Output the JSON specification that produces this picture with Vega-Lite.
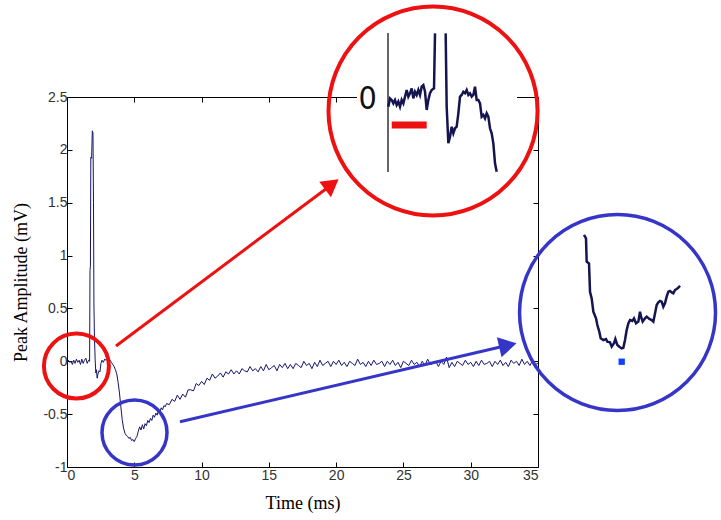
{
  "$schema": "https://vega.github.io/schema/vega-lite/v6.json",
  "width": 471,
  "height": 370,
  "autosize": {"type": "none"},
  "padding": {"left": 67, "top": 97, "right": 183, "bottom": 53},
  "background": "white",
  "config": {
    "view": {"stroke": "#000", "strokeWidth": 1},
    "axis": {
      "grid": false, "domain": false,
      "labelFont": "Liberation Sans", "labelFontSize": 14, "labelColor": "#333",
      "titleFont": "Liberation Serif", "titleFontSize": 18, "titleFontWeight": "normal", "titleColor": "#000",
      "tickColor": "#000", "tickSize": -5
    }
  },
  "datasets": {
    "main": [
      {"t":0,"v":-0.02},{"t":0.1,"v":0.01},{"t":0.2,"v":-0.01},{"t":0.3,"v":0.0},{"t":0.4,"v":-0.03},{"t":0.5,"v":0.01},{"t":0.6,"v":-0.02},{"t":0.7,"v":0.02},{"t":0.8,"v":-0.01},{"t":0.9,"v":0.01},{"t":1.0,"v":-0.03},{"t":1.1,"v":0.02},{"t":1.2,"v":-0.02},{"t":1.3,"v":0.01},{"t":1.4,"v":0.03},{"t":1.5,"v":-0.02},{"t":1.6,"v":0.01},{"t":1.68,"v":0.0},
      {"t":1.71,"v":0.86},{"t":1.74,"v":0.9},{"t":1.77,"v":1.93},{"t":1.83,"v":1.92},{"t":1.88,"v":2.18},{"t":1.93,"v":2.16},{"t":1.97,"v":1.5},{"t":2.0,"v":0.55},{"t":2.04,"v":0.23},{"t":2.09,"v":0.02},{"t":2.14,"v":-0.11},{"t":2.19,"v":-0.08},{"t":2.24,"v":-0.16},{"t":2.3,"v":-0.12},{"t":2.38,"v":-0.09},{"t":2.45,"v":-0.1},{"t":2.52,"v":-0.02},{"t":2.6,"v":0.01},{"t":2.7,"v":-0.01},{"t":2.8,"v":0.02},{"t":2.9,"v":0.01},{"t":3.0,"v":0.02},{"t":3.1,"v":-0.01},{"t":3.2,"v":0.01},{"t":3.3,"v":-0.01},{"t":3.4,"v":-0.03},{"t":3.5,"v":-0.05},{"t":3.6,"v":-0.08},{"t":3.7,"v":-0.12},{"t":3.8,"v":-0.2},{"t":3.9,"v":-0.3},{"t":4.0,"v":-0.43},{"t":4.1,"v":-0.55},{"t":4.2,"v":-0.63},{"t":4.3,"v":-0.68},{"t":4.4,"v":-0.7},{"t":4.5,"v":-0.71},{"t":4.6,"v":-0.73},{"t":4.7,"v":-0.72},{"t":4.8,"v":-0.75},{"t":4.9,"v":-0.74},{"t":5.0,"v":-0.76},{"t":5.1,"v":-0.73},{"t":5.2,"v":-0.71},{"t":5.3,"v":-0.66},{"t":5.4,"v":-0.62},{"t":5.5,"v":-0.65},{"t":5.6,"v":-0.6},{"t":5.7,"v":-0.64},{"t":5.8,"v":-0.59},{"t":5.9,"v":-0.61},{"t":6.0,"v":-0.56},{"t":6.1,"v":-0.58},{"t":6.2,"v":-0.54},{"t":6.3,"v":-0.56},{"t":6.4,"v":-0.51},{"t":6.5,"v":-0.53},{"t":6.6,"v":-0.49},{"t":6.7,"v":-0.51},{"t":6.8,"v":-0.46},{"t":6.9,"v":-0.48},{"t":7.0,"v":-0.44},{"t":7.1,"v":-0.46},{"t":7.2,"v":-0.42},{"t":7.3,"v":-0.43},{"t":7.4,"v":-0.4},
      {"t":7.6,"v":-0.41},{"t":7.8,"v":-0.36},{"t":8.0,"v":-0.38},{"t":8.2,"v":-0.32},{"t":8.4,"v":-0.36},{"t":8.6,"v":-0.31},{"t":8.8,"v":-0.34},{"t":9.0,"v":-0.27},{"t":9.2,"v":-0.27},{"t":9.4,"v":-0.28},{"t":9.6,"v":-0.21},{"t":9.8,"v":-0.23},{"t":10.0,"v":-0.19},{"t":10.2,"v":-0.22},{"t":10.4,"v":-0.16},{"t":10.6,"v":-0.18},{"t":10.8,"v":-0.12},{"t":11.0,"v":-0.16},{"t":11.2,"v":-0.14},{"t":11.4,"v":-0.11},{"t":11.6,"v":-0.15},{"t":11.8,"v":-0.1},{"t":12.0,"v":-0.12},{"t":12.2,"v":-0.08},{"t":12.4,"v":-0.12},{"t":12.6,"v":-0.09},{"t":12.8,"v":-0.12},{"t":13.0,"v":-0.07},{"t":13.2,"v":-0.09},{"t":13.4,"v":-0.1},{"t":13.6,"v":-0.05},{"t":13.8,"v":-0.09},{"t":14.0,"v":-0.07},{"t":14.2,"v":-0.1},{"t":14.4,"v":-0.05},{"t":14.6,"v":-0.09},{"t":14.8,"v":-0.03},{"t":15.0,"v":-0.08},{"t":15.2,"v":-0.06},{"t":15.4,"v":-0.04},{"t":15.6,"v":-0.09},{"t":15.8,"v":-0.03},{"t":16.0,"v":-0.06},{"t":16.2,"v":-0.02},{"t":16.4,"v":-0.07},{"t":16.6,"v":-0.03},{"t":16.8,"v":-0.07},{"t":17.0,"v":-0.02},{"t":17.2,"v":-0.04},{"t":17.4,"v":-0.06},{"t":17.6,"v":0.0},{"t":17.8,"v":-0.04},{"t":18.0,"v":-0.02},{"t":18.2,"v":-0.07},{"t":18.4,"v":-0.01},{"t":18.6,"v":-0.05},{"t":18.8,"v":0.01},{"t":19.0,"v":-0.04},{"t":19.2,"v":-0.02},{"t":19.4,"v":0.0},{"t":19.6,"v":-0.05},{"t":19.8,"v":0.0},
      {"t":20.0,"v":-0.03},{"t":20.2,"v":0.01},{"t":20.4,"v":-0.04},{"t":20.6,"v":-0.01},{"t":20.8,"v":-0.05},{"t":21.0,"v":0.0},{"t":21.2,"v":-0.02},{"t":21.4,"v":-0.04},{"t":21.6,"v":0.02},{"t":21.8,"v":-0.03},{"t":22.0,"v":-0.01},{"t":22.2,"v":-0.05},{"t":22.4,"v":0.0},{"t":22.6,"v":-0.04},{"t":22.8,"v":0.01},{"t":23.0,"v":-0.03},{"t":23.2,"v":-0.02},{"t":23.4,"v":0.0},{"t":23.6,"v":-0.05},{"t":23.8,"v":0.0},{"t":24.0,"v":-0.03},{"t":24.2,"v":0.01},{"t":24.4,"v":-0.04},{"t":24.6,"v":-0.01},{"t":24.8,"v":-0.06},{"t":25.0,"v":0.0},{"t":25.2,"v":-0.02},{"t":25.4,"v":-0.04},{"t":25.6,"v":0.01},{"t":25.8,"v":-0.03},{"t":26.0,"v":-0.01},{"t":26.2,"v":-0.05},{"t":26.4,"v":0.0},{"t":26.6,"v":-0.04},{"t":26.8,"v":0.02},{"t":27.0,"v":-0.03},{"t":27.2,"v":-0.02},{"t":27.4,"v":0.0},{"t":27.6,"v":-0.05},{"t":27.8,"v":0.0},{"t":28.0,"v":-0.03},{"t":28.2,"v":0.04},{"t":28.4,"v":-0.06},{"t":28.6,"v":-0.01},{"t":28.8,"v":-0.05},{"t":29.0,"v":0.0},{"t":29.2,"v":-0.02},{"t":29.4,"v":-0.04},{"t":29.6,"v":0.01},{"t":29.8,"v":-0.03},{"t":30.0,"v":-0.01},{"t":30.2,"v":-0.05},{"t":30.4,"v":0.0},{"t":30.6,"v":-0.04},{"t":30.8,"v":0.01},{"t":31.0,"v":-0.03},{"t":31.2,"v":-0.02},{"t":31.4,"v":0.0},{"t":31.6,"v":-0.05},{"t":31.8,"v":0.0},{"t":32.0,"v":-0.03},{"t":32.2,"v":0.01},{"t":32.4,"v":-0.04},{"t":32.6,"v":-0.01},{"t":32.8,"v":-0.05},{"t":33.0,"v":0.01},{"t":33.2,"v":-0.02},{"t":33.4,"v":0.0},{"t":33.6,"v":-0.04},{"t":33.8,"v":0.02},{"t":34.0,"v":-0.03},{"t":34.2,"v":0.0},{"t":34.4,"v":-0.04},{"t":34.6,"v":0.01},{"t":34.8,"v":-0.03},{"t":35.0,"v":-0.02}
    ],
    "insetRed": [
      {"t":23.879,"v":2.408,"seg":"a"},{"t":24.003,"v":2.487,"seg":"a"},{"t":24.127,"v":2.472,"seg":"a"},{"t":24.251,"v":2.44,"seg":"a"},{"t":24.374,"v":2.472,"seg":"a"},{"t":24.498,"v":2.424,"seg":"a"},{"t":24.622,"v":2.456,"seg":"a"},{"t":24.746,"v":2.408,"seg":"a"},{"t":24.87,"v":2.472,"seg":"a"},{"t":24.994,"v":2.44,"seg":"a"},{"t":25.117,"v":2.503,"seg":"a"},{"t":25.241,"v":2.566,"seg":"a"},{"t":25.365,"v":2.503,"seg":"a"},{"t":25.489,"v":2.535,"seg":"a"},{"t":25.613,"v":2.582,"seg":"a"},{"t":25.737,"v":2.487,"seg":"a"},{"t":25.861,"v":2.55,"seg":"a"},{"t":25.984,"v":2.519,"seg":"a"},{"t":26.108,"v":2.566,"seg":"a"},{"t":26.232,"v":2.519,"seg":"a"},{"t":26.356,"v":2.598,"seg":"a"},{"t":26.48,"v":2.613,"seg":"a"},{"t":26.604,"v":2.55,"seg":"a"},{"t":26.728,"v":2.377,"seg":"a"},{"t":26.851,"v":2.472,"seg":"a"},{"t":26.975,"v":2.535,"seg":"a"},{"t":27.099,"v":2.566,"seg":"a"},{"t":27.273,"v":2.582,"seg":"a"},{"t":27.347,"v":3.102,"seg":"a"},
      {"t":28.139,"v":3.102,"seg":"b"},{"t":28.214,"v":2.408,"seg":"b"},{"t":28.338,"v":2.062,"seg":"b"},{"t":28.461,"v":2.125,"seg":"b"},{"t":28.585,"v":2.219,"seg":"b"},{"t":28.709,"v":2.156,"seg":"b"},{"t":28.833,"v":2.204,"seg":"b"},{"t":28.957,"v":2.219,"seg":"b"},{"t":29.081,"v":2.346,"seg":"b"},{"t":29.205,"v":2.503,"seg":"b"},{"t":29.328,"v":2.519,"seg":"b"},{"t":29.452,"v":2.55,"seg":"b"},{"t":29.576,"v":2.535,"seg":"b"},{"t":29.7,"v":2.566,"seg":"b"},{"t":29.824,"v":2.519,"seg":"b"},{"t":29.948,"v":2.535,"seg":"b"},{"t":30.072,"v":2.503,"seg":"b"},{"t":30.195,"v":2.519,"seg":"b"},{"t":30.319,"v":2.598,"seg":"b"},{"t":30.443,"v":2.472,"seg":"b"},{"t":30.567,"v":2.472,"seg":"b"},{"t":30.691,"v":2.44,"seg":"b"},{"t":30.815,"v":2.314,"seg":"b"},{"t":30.938,"v":2.33,"seg":"b"},{"t":31.062,"v":2.298,"seg":"b"},{"t":31.186,"v":2.346,"seg":"b"},{"t":31.31,"v":2.314,"seg":"b"},{"t":31.434,"v":2.204,"seg":"b"},{"t":31.558,"v":2.156,"seg":"b"},{"t":31.681,"v":2.062,"seg":"b"},{"t":31.805,"v":1.873,"seg":"b"},{"t":31.929,"v":1.794,"seg":"b"}
    ],
    "insetBlue": [
      {"t":38.419,"v":1.195},{"t":38.568,"v":1.163},{"t":38.617,"v":0.942},{"t":38.791,"v":0.926},{"t":38.865,"v":0.658},{"t":38.989,"v":0.595},{"t":39.113,"v":0.469},{"t":39.311,"v":0.406},{"t":39.41,"v":0.343},{"t":39.558,"v":0.28},{"t":39.657,"v":0.217},{"t":39.856,"v":0.201},{"t":40.054,"v":0.211},{"t":40.153,"v":0.185},{"t":40.351,"v":0.179},{"t":40.475,"v":0.138},{"t":40.648,"v":0.17},{"t":40.747,"v":0.211},{"t":40.896,"v":0.154},{"t":41.045,"v":0.138},{"t":41.218,"v":0.122},{"t":41.342,"v":0.128},{"t":41.466,"v":0.201},{"t":41.59,"v":0.296},{"t":41.713,"v":0.359},{"t":41.837,"v":0.39},{"t":42.011,"v":0.381},{"t":42.135,"v":0.406},{"t":42.283,"v":0.359},{"t":42.457,"v":0.375},{"t":42.58,"v":0.469},{"t":42.655,"v":0.422},{"t":42.779,"v":0.375},{"t":42.952,"v":0.406},{"t":43.076,"v":0.422},{"t":43.274,"v":0.4},{"t":43.447,"v":0.39},{"t":43.571,"v":0.375},{"t":43.695,"v":0.453},{"t":43.819,"v":0.532},{"t":43.943,"v":0.557},{"t":44.067,"v":0.57},{"t":44.191,"v":0.564},{"t":44.314,"v":0.516},{"t":44.438,"v":0.548},{"t":44.562,"v":0.611},{"t":44.686,"v":0.658},{"t":44.81,"v":0.665},{"t":44.934,"v":0.652},{"t":45.057,"v":0.643},{"t":45.181,"v":0.674},{"t":45.305,"v":0.684},{"t":45.429,"v":0.696},{"t":45.553,"v":0.715}
    ]
  },
  "resolve": {"axis": {"x": "independent", "y": "independent"}},
  "layer": [
    {
      "data": {"name": "main"},
      "mark": {"type": "line", "strokeOpacity": 0},
      "encoding": {
        "x": {"field": "t", "type": "quantitative", "scale": {"domain": [0, 35], "nice": false, "zero": false},
              "axis": {"orient": "top", "labels": false, "title": null, "values": [0,5,10,15,20,25,30,35]}},
        "y": {"field": "v", "type": "quantitative", "scale": {"domain": [-1, 2.5], "nice": false, "zero": false},
              "axis": {"orient": "right", "labels": false, "title": null, "values": [-1,-0.5,0,0.5,1,1.5,2,2.5]}}
      }
    },
    {
      "data": {"name": "main"},
      "mark": {"type": "line", "color": "#14146e", "strokeWidth": 1, "clip": false},
      "encoding": {
        "x": {"field": "t", "type": "quantitative", "scale": {"domain": [0, 35], "nice": false, "zero": false},
              "axis": {"orient": "bottom", "title": "Time (ms)", "values": [0,5,10,15,20,25,30,35], "labelPadding": 6, "titlePadding": 12}},
        "y": {"field": "v", "type": "quantitative", "scale": {"domain": [-1, 2.5], "nice": false, "zero": false},
              "axis": {"orient": "left", "title": "Peak Amplitude (mV)", "values": [-1,-0.5,0,0.5,1,1.5,2,2.5], "labelExpr": "toString(datum.value)", "labelPadding": 5, "titlePadding": 12}}
      }
    },
    {
      "data": {"values": [{"x1": 21.55, "x2": 33.44, "y1": 2.566, "y2": 2.434}]},
      "mark": {"type": "rect", "color": "white", "clip": false},
      "encoding": {
        "x": {"field": "x1", "type": "quantitative", "axis": null},
        "x2": {"field": "x2"},
        "y": {"field": "y1", "type": "quantitative", "axis": null},
        "y2": {"field": "y2"}
      }
    },
    {
      "data": {"values": [{"t": 27.2, "v": 2.368}]},
      "mark": {"type": "point", "shape": "circle", "filled": false, "size": 43700, "stroke": "#ee1111", "strokeWidth": 4, "opacity": 1, "clip": false},
      "encoding": {"x": {"field": "t", "type": "quantitative", "axis": null}, "y": {"field": "v", "type": "quantitative", "axis": null}}
    },
    {
      "data": {"values": [{"t": 0.7, "v": -0.045}]},
      "mark": {"type": "point", "shape": "circle", "filled": false, "size": 4225, "stroke": "#ee1111", "strokeWidth": 4, "opacity": 1, "clip": false},
      "encoding": {"x": {"field": "t", "type": "quantitative", "axis": null}, "y": {"field": "v", "type": "quantitative", "axis": null}}
    },
    {
      "data": {"values": [{"t": 40.91, "v": 0.461}]},
      "mark": {"type": "point", "shape": "circle", "filled": false, "size": 38400, "stroke": "#3535c8", "strokeWidth": 3.5, "opacity": 1, "clip": false},
      "encoding": {"x": {"field": "t", "type": "quantitative", "axis": null}, "y": {"field": "v", "type": "quantitative", "axis": null}}
    },
    {
      "data": {"values": [{"t": 5.016, "v": -0.674}]},
      "mark": {"type": "point", "shape": "circle", "filled": false, "size": 4225, "stroke": "#3535c8", "strokeWidth": 3.5, "opacity": 1, "clip": false},
      "encoding": {"x": {"field": "t", "type": "quantitative", "axis": null}, "y": {"field": "v", "type": "quantitative", "axis": null}}
    },
    {
      "data": {"values": [{"t": 23.854, "v": 3.105, "v2": 1.79}]},
      "mark": {"type": "rule", "color": "#333333", "strokeWidth": 1.5, "clip": false},
      "encoding": {"x": {"field": "t", "type": "quantitative", "axis": null}, "y": {"field": "v", "type": "quantitative", "axis": null}, "y2": {"field": "v2"}}
    },
    {
      "data": {"values": [{"t": 24.13, "t2": 26.73, "v": 2.235}]},
      "mark": {"type": "rule", "color": "#ee1111", "strokeWidth": 7, "clip": false},
      "encoding": {"x": {"field": "t", "type": "quantitative", "axis": null}, "x2": {"field": "t2"}, "y": {"field": "v", "type": "quantitative", "axis": null}}
    },
    {
      "data": {"values": [{"t": 22.35, "v": 2.481, "label": "0"}]},
      "mark": {"type": "text", "font": "DejaVu Sans Condensed, Liberation Sans Narrow, Liberation Sans", "fontSize": 32, "color": "#111", "align": "center", "baseline": "middle", "clip": false},
      "encoding": {"x": {"field": "t", "type": "quantitative", "axis": null}, "y": {"field": "v", "type": "quantitative", "axis": null}, "text": {"field": "label"}}
    },
    {
      "data": {"name": "insetRed"},
      "mark": {"type": "line", "color": "#141450", "strokeWidth": 2.5, "clip": false},
      "encoding": {"x": {"field": "t", "type": "quantitative", "axis": null}, "y": {"field": "v", "type": "quantitative", "axis": null}, "detail": {"field": "seg"}}
    },
    {
      "data": {"name": "insetBlue"},
      "mark": {"type": "line", "color": "#141450", "strokeWidth": 2.5, "clip": false},
      "encoding": {"x": {"field": "t", "type": "quantitative", "axis": null}, "y": {"field": "v", "type": "quantitative", "axis": null}}
    },
    {
      "data": {"values": [{"t": 41.22, "v": -0.004}]},
      "mark": {"type": "point", "shape": "square", "filled": true, "size": 40, "color": "#1040ff", "opacity": 1, "clip": false},
      "encoding": {"x": {"field": "t", "type": "quantitative", "axis": null}, "y": {"field": "v", "type": "quantitative", "axis": null}}
    },
    {
      "data": {"values": [{"t": 3.641, "v": 0.144, "t2": 19.68, "v2": 1.673}]},
      "mark": {"type": "rule", "color": "#ee1111", "strokeWidth": 3, "clip": false},
      "encoding": {"x": {"field": "t", "type": "quantitative", "axis": null}, "y": {"field": "v", "type": "quantitative", "axis": null}, "x2": {"field": "t2"}, "y2": {"field": "v2"}}
    },
    {
      "data": {"values": [{"t": 19.68, "v": 1.673}]},
      "mark": {"type": "point", "shape": "triangle-up", "filled": true, "size": 380, "angle": 53, "color": "#ee1111", "opacity": 1, "clip": false},
      "encoding": {"x": {"field": "t", "type": "quantitative", "axis": null}, "y": {"field": "v", "type": "quantitative", "axis": null}}
    },
    {
      "data": {"values": [{"t": 8.397, "v": -0.572, "t2": 32.76, "v2": 0.151}]},
      "mark": {"type": "rule", "color": "#3535c8", "strokeWidth": 3, "clip": false},
      "encoding": {"x": {"field": "t", "type": "quantitative", "axis": null}, "y": {"field": "v", "type": "quantitative", "axis": null}, "x2": {"field": "t2"}, "y2": {"field": "v2"}}
    },
    {
      "data": {"values": [{"t": 32.76, "v": 0.151}]},
      "mark": {"type": "point", "shape": "triangle-up", "filled": true, "size": 420, "angle": 77, "color": "#3535c8", "opacity": 1, "clip": false},
      "encoding": {"x": {"field": "t", "type": "quantitative", "axis": null}, "y": {"field": "v", "type": "quantitative", "axis": null}}
    }
  ]
}
